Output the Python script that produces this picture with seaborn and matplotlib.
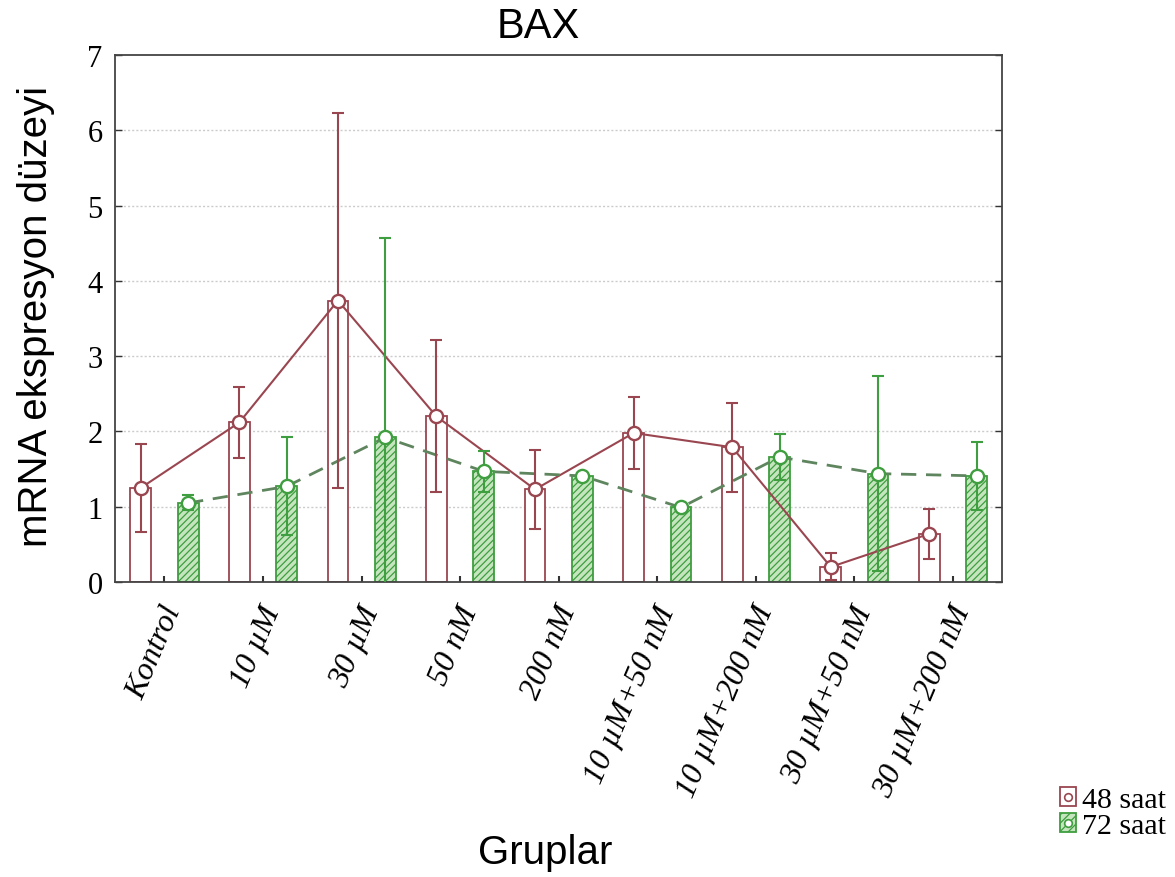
import numpy as np
import pandas as pd
import matplotlib
matplotlib.use("Agg")
import matplotlib.pyplot as plt
from matplotlib.patches import Patch
from matplotlib.lines import Line2D
import matplotlib.transforms as mtransforms
import seaborn as sns

# Groups and series (mean mRNA expression with error half-widths)
groups = ["Kontrol", "10 \u00b5M", "30 \u00b5M", "50 nM", "200 nM",
          "10 \u00b5M+50 nM", "10 \u00b5M+200 nM", "30 \u00b5M+50 nM", "30 \u00b5M+200 nM"]
series = ["48 saat", "72 saat"]
mean_48 = [1.25, 2.12, 3.74, 2.20, 1.23, 1.98, 1.79, 0.20, 0.64]
err_48 = [0.58, 0.47, 2.49, 1.01, 0.52, 0.48, 0.59, 0.18, 0.33]
mean_72 = [1.05, 1.27, 1.92, 1.47, 1.41, 0.99, 1.66, 1.44, 1.41]
err_72 = [0.10, 0.65, 2.65, 0.27, 0.04, 0.03, 0.30, 1.30, 0.45]
yticks = [0, 1, 2, 3, 4, 5, 6, 7]

RED = "#9a4650"
GREEN = "#3f9e3f"
GREEN_FILL = "#c4e5bd"
DASH = "#5f855f"
SANS = "Liberation Sans"
SERIF = "Liberation Serif"

df = pd.DataFrame({
    "Gruplar": groups * 2,
    "value": mean_48 + mean_72,
    "series": [series[0]] * len(groups) + [series[1]] * len(groups),
})

sns.set_theme(style="white")
plt.rcParams["hatch.linewidth"] = 0.9
plt.rcParams["text.color"] = "black"

fig = plt.figure(figsize=(11.75, 8.78), dpi=100)
ax = fig.add_axes([0.098, 0.336, 0.755, 0.600])

sns.barplot(data=df, x="Gruplar", y="value", hue="series", hue_order=series,
            order=groups, width=0.96, gap=0.56, errorbar=None, legend=False,
            palette=[RED, GREEN], ax=ax, zorder=2)

for bar in ax.containers[0]:
    bar.set_facecolor("white")
    bar.set_edgecolor(RED)
    bar.set_linewidth(1.3)
for bar in ax.containers[1]:
    bar.set_facecolor(GREEN_FILL)
    bar.set_edgecolor(GREEN)
    bar.set_hatch("/////")
    bar.set_linewidth(1.3)

# bar centres from the patches themselves
x48 = np.array([b.get_x() + b.get_width() / 2 for b in ax.containers[0]])
x72 = np.array([b.get_x() + b.get_width() / 2 for b in ax.containers[1]])

ax.plot(x48, mean_48, color=RED, lw=1.5, zorder=4)
ax.plot(x72, mean_72, color=DASH, lw=2.0, ls=(0, (5.5, 3.5)), zorder=4)
ax.errorbar(x48, mean_48, yerr=err_48, fmt="none", ecolor=RED, elinewidth=1.5,
            capsize=4.5, capthick=1.5, zorder=5)
ax.errorbar(x72, mean_72, yerr=err_72, fmt="none", ecolor=GREEN, elinewidth=1.5,
            capsize=4.5, capthick=1.5, zorder=5)
ax.plot(x48, mean_48, ls="none", marker="o", ms=9.5, mfc="white", mec=RED,
        mew=1.7, zorder=6)
ax.plot(x72, mean_72, ls="none", marker="o", ms=9.5, mfc="white", mec=GREEN,
        mew=1.7, zorder=6)

ax.set_ylim(0, 7)
ax.set_xlim(-0.5, len(groups) - 0.5)
ax.set_yticks(yticks)
ax.set_yticklabels([str(t) for t in yticks], fontfamily=SERIF, fontsize=22,
                   color="black")
ax.set_xticks(range(len(groups)))
ax.tick_params(axis="y", direction="in", length=5, width=1, pad=9,
               left=True, right=True, colors="#333333", labelcolor="black")
ax.tick_params(axis="x", direction="in", length=4, width=1.5, pad=20,
               bottom=True, colors="#333333", labelcolor="black")
ax.set_xticklabels(groups, fontfamily=SERIF, fontstyle="italic", fontsize=23,
                   rotation=67, ha="right", va="center", rotation_mode="anchor",
                   color="black")
shift = mtransforms.ScaledTranslation(10 / 100, 3 / 100, fig.dpi_scale_trans)
for lbl in ax.get_xticklabels():
    lbl.set_transform(lbl.get_transform() + shift)
ax.set_xlabel("")
ax.set_ylabel("")

for y in yticks[1:-1]:
    ax.axhline(y, color="#cccccc", lw=1.0, ls=(0, (1.5, 1.5)), zorder=0)

for s in ax.spines.values():
    s.set_visible(True)
    s.set_color("#444444")
    s.set_linewidth(1.3)

fig.text(0.458, 0.969, "BAX", fontfamily=SANS, fontsize=30, ha="center", va="center",
         color="black")
fig.text(0.464, 0.0285, "Gruplar", fontfamily=SANS, fontsize=29, ha="center",
         va="center", color="black")
fig.text(0.031, 0.640, "mRNA ekspresyon d\u00fczeyi", fontfamily=SANS, fontsize=29,
         rotation=90, ha="center", va="center", color="black")

h48 = (Patch(facecolor="white", edgecolor=RED, lw=1.3),
       Line2D([], [], ls="none", marker="o", ms=5.5, mfc="white", mec=RED, mew=1.2))
h72 = (Patch(facecolor=GREEN_FILL, edgecolor=GREEN, lw=1.3, hatch="////"),
       Line2D([], [], ls="none", marker="o", ms=5.5, mfc="white", mec=GREEN, mew=1.2))
leg = fig.legend([h48, h72], series, loc="upper left", bbox_to_anchor=(0.902, 0.102),
                 frameon=False, prop={"family": SERIF, "size": 21.5},
                 handlelength=0.55, handleheight=0.6, handletextpad=0.2,
                 labelspacing=0.0, borderpad=0, borderaxespad=0)
for t in leg.get_texts():
    t.set_color("black")

fig.savefig("out.png", dpi=100, facecolor="white")
